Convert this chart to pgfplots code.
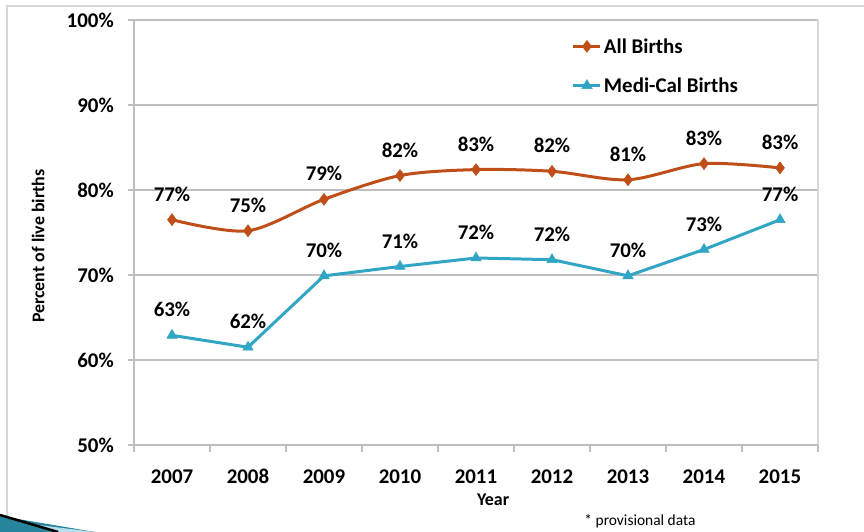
\documentclass[border=0pt]{standalone}
\usepackage{pgfplots}
\pgfplotsset{compat=1.18}
\usepackage{fontspec}
\setmainfont{Carlito}
\definecolor{allc}{RGB}{191,78,24}
\definecolor{medc}{RGB}{49,166,196}
\definecolor{gridc}{RGB}{190,190,190}
\definecolor{borderc}{RGB}{215,215,215}
\begin{document}
\begin{tikzpicture}[x=1bp,y=1bp]
\path[use as bounding box] (0,0) rectangle (864,532);
% slide frame
\draw[borderc,line width=1.2bp] (7,0) -- (7,526) -- (864,526);
% slide decoration
\fill[medc!80!black] (0,16) -- (0,0) -- (95,0) -- cycle;
\fill[medc!35] (30,8) -- (95,0) -- (60,0) -- cycle;
\draw[black,line width=2.5bp] (0,17) -- (58,0);
\begin{axis}[
  at={(134bp,87bp)}, anchor=south west,
  width=684bp, height=425bp, scale only axis,
  /pgf/number format/assume math mode=true,
  xmin=2006.5, xmax=2015.5, ymin=50, ymax=100,
  xtick={2007,...,2015},
  xticklabels={2007,2008,2009,2010,2011,2012,2013,2014,2015},
  minor xtick={2006.5,2007.5,...,2015.5},
  ytick={50,60,...,100},
  yticklabel={\pgfmathprintnumber{\tick}\%},
  axis line style={gridc, line width=1.2bp},
  axis x line*=bottom,
  axis y line*=left,
  ymajorgrids, major grid style={gridc, line width=1.2bp},
  tick style={gridc, line width=1.2bp},
  major x tick style={draw=none},
  minor tick length=7bp,
  major tick length=6bp,
  tick align=outside,
  x tick label style={font=\bfseries\fontsize{21}{24}\selectfont, anchor=north, inner sep=0pt, text height=14bp, text depth=0pt, yshift=-18bp},
  y tick label style={font=\bfseries\fontsize{21}{24}\selectfont, anchor=east, inner sep=0pt, xshift=-14bp},
  xlabel={Year},
  ylabel={Percent of live births},
  xlabel style={font=\bfseries\fontsize{18}{21}\selectfont, at={(axis description cs:0.525,-0.13)}, anchor=center},
  ylabel style={font=\bfseries\fontsize{18}{21}\selectfont, at={(axis description cs:-0.140,0.468)}, anchor=center, rotate=0},
  legend style={at={(axis description cs:0.640,0.962)}, anchor=north west, draw=none, fill=none,
    font=\bfseries\fontsize{21}{24}\selectfont, row sep=19bp, inner sep=0pt},
  legend cell align=left,
  legend image code/.code={\draw[#1, mark repeat=2, mark phase=2] plot coordinates {(0bp,0bp) (13.5bp,0bp) (27bp,0bp)};},
  every node near coord/.style={font=\bfseries\fontsize{21}{24}\selectfont, text=black, inner sep=0pt, anchor=south, yshift=18bp},
  nodes near coords,
  point meta=explicit symbolic,
  clip=false,
]
\addplot[allc, line width=3bp, smooth, tension=0.5, mark=diamond*, mark size=6bp, mark options={fill=allc, line width=0.5bp}]
coordinates {
(2007,76.5) [77\%]
(2008,75.2) [75\%]
(2009,78.9) [79\%]
(2010,81.7) [82\%]
(2011,82.4) [83\%]
(2012,82.2) [82\%]
(2013,81.2) [81\%]
(2014,83.1) [83\%]
(2015,82.6) [83\%]
};
\addlegendentry{All Births}
\addplot[medc, line width=3bp, mark=triangle*, mark size=6bp, mark options={fill=medc, line width=0.5bp}]
coordinates {
(2007,62.9) [63\%]
(2008,61.5) [62\%]
(2009,69.9) [70\%]
(2010,71.0) [71\%]
(2011,72.0) [72\%]
(2012,71.8) [72\%]
(2013,69.9) [70\%]
(2014,73.0) [73\%]
(2015,76.5) [77\%]
};
\addlegendentry{Medi-Cal Births}
\draw[borderc, line width=1.2bp] (rel axis cs:1,0) -- (rel axis cs:1,1);
\end{axis}
\node[font=\fontsize{15.5}{18}\selectfont, anchor=center] at (640,11) {* provisional data};
\end{tikzpicture}
\end{document}
